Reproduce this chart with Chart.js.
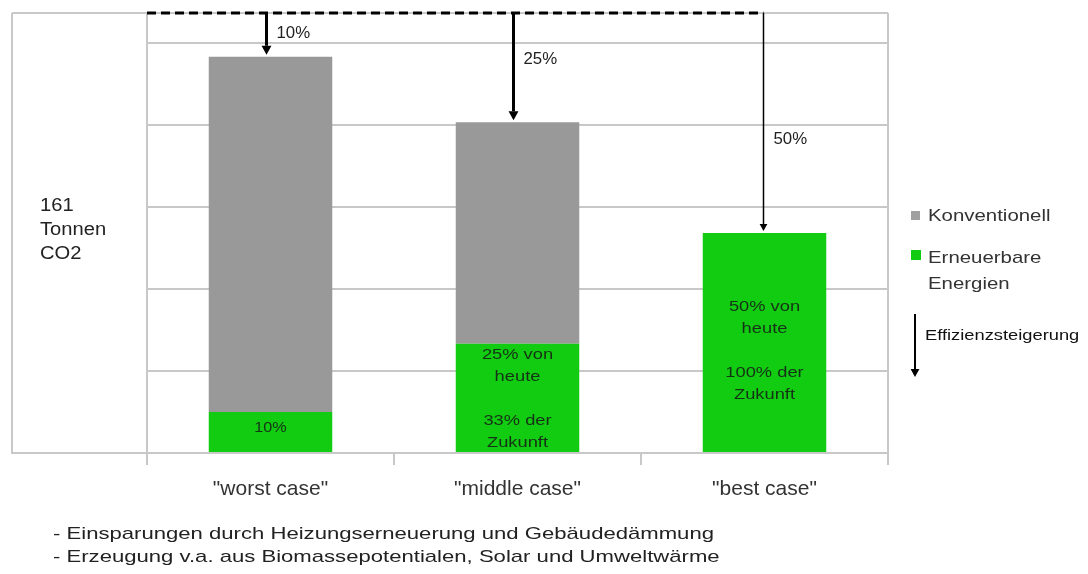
<!DOCTYPE html>
<html>
<head>
<meta charset="utf-8">
<script src="https://cdn.jsdelivr.net/npm/chart.js@4"></script>
<style>
  html, body { margin: 0; padding: 0; background: #fff; }
  #wrap { width: 1088px; height: 574px; position: relative; }
</style>
</head>
<body>
<div id="wrap"><canvas id="co2Chart"></canvas></div>
<script>
// Szenarien
const categories = ['"worst case"', '"middle case"', '"best case"'];
// Tonnen CO2 je Szenario
const erneuerbar = [15, 40, 80.5];
const konventionell = [130, 81, 0];
const heuteTotal = 161;
const yTicksStep = 30;
// Einsparung gegenüber heute
const einsparung = ['10%', '25%', '50%'];
// Beschriftung im grünen Balkenteil
const balkenText = [
    ['10%'],
    ['25% von', 'heute', '', '33% der', 'Zukunft'],
    ['50% von', 'heute', '', '100% der', 'Zukunft']
];
const linksText = ['161', 'Tonnen', 'CO2'];
const fussnoten = [
    '- Einsparungen durch Heizungserneuerung und Gebäudedämmung',
    '- Erzeugung v.a. aus Biomassepotentialen, Solar und Umweltwärme'
];

const FONT = '"Liberation Sans", Arial, sans-serif';
const GRAU = '#999999';
const GRUEN = '#11cc11';
const GRID = '#c8c8c8';

function pfeil(ctx, x, y1, y2, lw, head) {
    ctx.save();
    ctx.strokeStyle = '#000';
    ctx.fillStyle = '#000';
    ctx.lineWidth = lw;
    ctx.beginPath();
    ctx.moveTo(x, y1);
    ctx.lineTo(x, y2 - head);
    ctx.stroke();
    ctx.beginPath();
    ctx.moveTo(x - head * 0.55, y2 - head);
    ctx.lineTo(x + head * 0.55, y2 - head);
    ctx.lineTo(x, y2);
    ctx.closePath();
    ctx.fill();
    ctx.restore();
}

// Text mit leichter horizontaler Streckung (wie im Original)
function text(ctx, str, x, y, size, color, align, sx) {
    ctx.save();
    ctx.font = size + 'px ' + FONT;
    ctx.fillStyle = color;
    ctx.textAlign = align || 'left';
    ctx.textBaseline = 'middle';
    ctx.translate(x, y);
    ctx.scale(sx || 1, 1);
    ctx.fillText(str, 0, 0);
    ctx.restore();
}

const dekor = {
    id: 'dekor',
    afterDraw(chart) {
        const ctx = chart.ctx;
        const area = chart.chartArea;
        const y = chart.scales.y;
        const bars = chart.getDatasetMeta(0).data;
        const topY = y.getPixelForValue(heuteTotal);

        // Rahmen links und rechts
        ctx.save();
        ctx.strokeStyle = GRID;
        ctx.lineWidth = 2;
        ctx.beginPath();
        ctx.moveTo(12, topY); ctx.lineTo(area.left, topY);
        ctx.moveTo(12, topY); ctx.lineTo(12, area.bottom);
        ctx.lineTo(area.left, area.bottom);
        ctx.moveTo(area.right, topY); ctx.lineTo(area.right, area.bottom);
        ctx.stroke();
        ctx.restore();

        // gestrichelte Linie heute
        const lastX = bars[bars.length - 1].x - 1;
        ctx.save();
        ctx.strokeStyle = '#000';
        ctx.lineWidth = 3;
        ctx.setLineDash([9, 5]);
        ctx.beginPath();
        ctx.moveTo(area.left, topY);
        ctx.lineTo(lastX, topY);
        ctx.stroke();
        ctx.restore();

        // Pfeile mit Einsparung
        const lw = [3, 3, 1.5];
        const labelDy = [21, 47, 127];
        bars.forEach((b, i) => {
            const total = erneuerbar[i] + konventionell[i];
            const ax = i === bars.length - 1 ? lastX : b.x - 4;
            const tip = y.getPixelForValue(total) - 2;
            pfeil(ctx, ax, topY, tip, lw[i], lw[i] > 2 ? 9 : 7);
            text(ctx, einsparung[i], ax + 10, topY + labelDy[i], 16, '#222', 'left', 1.05);
        });

        // Text im grünen Balkenteil
        const shift = [-4, 1, 8];
        bars.forEach((b, i) => {
            const lines = balkenText[i];
            const lh = 22;
            const mid = (b.y + b.base) / 2 + shift[i];
            lines.forEach((l, k) => {
                if (!l) return;
                const ly = mid + (k - (lines.length - 1) / 2) * lh;
                text(ctx, l, b.x, ly, 15, '#163216', 'center', i === 0 ? 1.08 : 1.22);
            });
        });

        // Beschriftung links
        linksText.forEach((l, k) => text(ctx, l, 40, 206 + k * 24, 18, '#222', 'left', 1.12));

        // Legende
        const ds = chart.data.datasets;
        const leg = [ds[1], ds[0]];
        ctx.save();
        ctx.fillStyle = '#a0a0a0';
        ctx.fillRect(911, 211, 9, 9);
        ctx.fillStyle = GRUEN;
        ctx.fillRect(911, 250, 10, 10);
        ctx.restore();
        text(ctx, leg[0].label, 928, 216, 17, '#333', 'left', 1.2);
        const parts = leg[1].label.split(' ');
        text(ctx, parts[0], 928, 258, 17, '#333', 'left', 1.2);
        text(ctx, parts[1], 928, 284, 17, '#333', 'left', 1.2);
        pfeil(ctx, 915, 314, 377, 2, 8);
        text(ctx, 'Effizienzsteigerung', 925, 336, 15, '#111', 'left', 1.22);

        // Fußnoten
        fussnoten.forEach((l, k) => text(ctx, l, 53, 534 + k * 23, 17, '#222', 'left', 1.3));
    }
};

new Chart(document.getElementById('co2Chart'), {
    type: 'bar',
    data: {
        labels: categories,
        datasets: [
            { label: 'Erneuerbare Energien', data: erneuerbar, backgroundColor: GRUEN },
            { label: 'Konventionell', data: konventionell, backgroundColor: GRAU }
        ]
    },
    options: {
        responsive: true,
        maintainAspectRatio: false,
        animation: false,
        layout: { padding: { left: 147, right: 200, top: 13, bottom: 71 } },
        datasets: { bar: { barPercentage: 0.5, categoryPercentage: 1 } },
        scales: {
            x: {
                stacked: true,
                grid: { drawOnChartArea: false, color: GRID, lineWidth: 2, tickLength: 12 },
                border: { color: GRID, width: 2 },
                ticks: { color: '#333', font: { family: FONT, size: 21 }, padding: 12 },
                afterFit(scale) { scale.height = 50; }
            },
            y: {
                stacked: true,
                min: 0,
                max: heuteTotal,
                ticks: { display: false, stepSize: yTicksStep },
                grid: { color: GRID, lineWidth: 2, drawTicks: false },
                border: { color: GRID, width: 2 }
            }
        },
        plugins: {
            legend: { display: false },
            tooltip: { enabled: false }
        }
    },
    plugins: [dekor]
});
</script>
</body>
</html>
